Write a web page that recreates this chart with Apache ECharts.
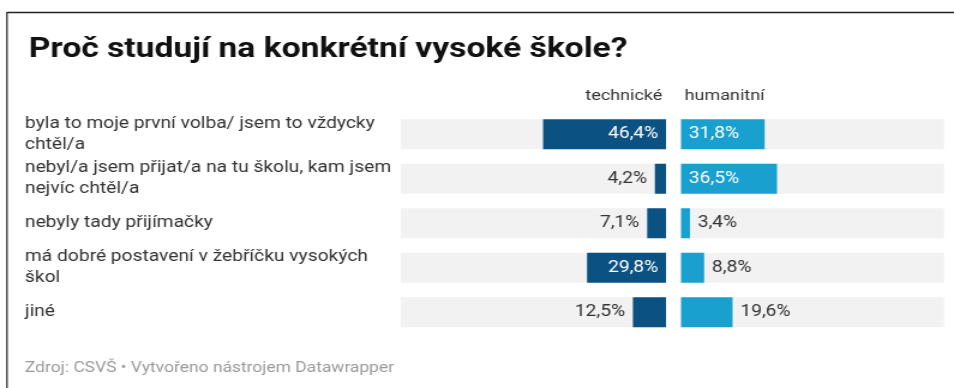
<!DOCTYPE html>
<html>
<head>
<meta charset="utf-8">
<script src="https://cdn.jsdelivr.net/npm/echarts@6/dist/echarts.min.js"></script>
<style>
  html, body { margin: 0; padding: 0; background: #fff; overflow: hidden; }
  /* the chart is laid out narrow and widened horizontally */
  #chart { width: 795px; height: 388px; transform: scaleX(1.2); transform-origin: 0 0; }
</style>
</head>
<body>
<div id="chart"></div>
<script>
// Reasons for choosing a particular university, by type of school (%)
const categories = [
  'byla to moje první volba/ jsem to vždycky\nchtěl/a',
  'nebyl/a jsem přijat/a na tu školu, kam jsem\nnejvíc chtěl/a',
  'nebyly tady přijímačky',
  'má dobré postavení v žebříčku vysokých\nškol',
  'jiné'
];
const seriesNames = ['technické', 'humanitní'];
const technicke = [46.4, 4.2, 7.1, 29.8, 12.5];
const humanitni = [31.8, 36.5, 3.4, 8.8, 19.6];

const FONT = 'Roboto, "Noto Sans", sans-serif';
const DARK = '#0b5282';
const LIGHT = '#1aa0cf';
const TEXT = '#333333';

const fmt = v => v.toFixed(1).replace('.', ',') + '%';

// bars wide enough carry their value inside in white, the rest outside
function items(values, side) {
  return values.map(v => {
    const inside = v > 25;
    return {
      value: v,
      label: {
        show: true,
        position: inside ? (side === 'left' ? 'insideRight' : 'insideLeft')
                         : (side === 'left' ? 'left' : 'right'),
        distance: 6.5,
        color: inside ? '#ffffff' : TEXT,
        fontFamily: FONT,
        fontSize: 16,
        formatter: p => fmt(p.value)
      }
    };
  });
}

const gridTop = 112;
const gridHeight = 222.5;

const chart = echarts.init(document.getElementById('chart'), null, { renderer: 'canvas' });
chart.setOption({
  backgroundColor: '#ffffff',
  animation: false,
  title: {
    text: 'Proč studují na konkrétní vysoké škole?',
    left: 19,
    top: 31,
    textStyle: { fontFamily: FONT, fontSize: 28, fontWeight: 'bold', color: '#111' }
  },
  grid: [
    { left: 334.2, width: 220.8, top: gridTop, height: gridHeight },
    { left: 567.5, width: 219.2, top: gridTop, height: gridHeight }
  ],
  xAxis: [
    { gridIndex: 0, type: 'value', min: 0, max: 100, inverse: true, show: false },
    { gridIndex: 1, type: 'value', min: 0, max: 100, show: false }
  ],
  yAxis: [
    {
      gridIndex: 0, type: 'category', data: categories, inverse: true,
      axisLine: { show: false }, axisTick: { show: false }, splitLine: { show: false },
      axisLabel: {
        align: 'left', margin: 313.4, color: TEXT, fontFamily: FONT,
        fontSize: 16, lineHeight: 21
      }
    },
    {
      gridIndex: 1, type: 'category', data: categories, inverse: true, show: false
    }
  ],
  series: [
    {
      name: seriesNames[0], type: 'bar', xAxisIndex: 0, yAxisIndex: 0,
      data: items(technicke, 'left'), barWidth: 30,
      itemStyle: { color: DARK },
      showBackground: true, backgroundStyle: { color: '#f2f2f2' }
    },
    {
      name: seriesNames[1], type: 'bar', xAxisIndex: 1, yAxisIndex: 1,
      data: items(humanitni, 'right'), barWidth: 30,
      itemStyle: { color: LIGHT },
      showBackground: true, backgroundStyle: { color: '#f2f2f2' }
    }
  ],
  graphic: [
    // frame lines along the top and left edge
    { type: 'line', shape: { x1: 5.8, y1: 12.5, x2: 795, y2: 12.5 }, style: { stroke: '#222', lineWidth: 1.5 } },
    { type: 'line', shape: { x1: 5.8, y1: 12, x2: 5.8, y2: 388 }, style: { stroke: '#222', lineWidth: 1.25 } },
    {
      type: 'text', x: 552, y: 96,
      style: { text: seriesNames[0], fill: TEXT, font: '15px ' + FONT, textAlign: 'right', textVerticalAlign: 'middle' }
    },
    {
      type: 'text', x: 570.5, y: 96,
      style: { text: seriesNames[1], fill: TEXT, font: '15px ' + FONT, textAlign: 'left', textVerticalAlign: 'middle' }
    },
    {
      type: 'text', x: 20.8, y: 368,
      style: { text: 'Zdroj: CSVŠ • Vytvořeno nástrojem Datawrapper', fill: '#9a9a9a', font: '14.5px ' + FONT, textAlign: 'left', textVerticalAlign: 'middle' }
    }
  ]
});
</script>
</body>
</html>
